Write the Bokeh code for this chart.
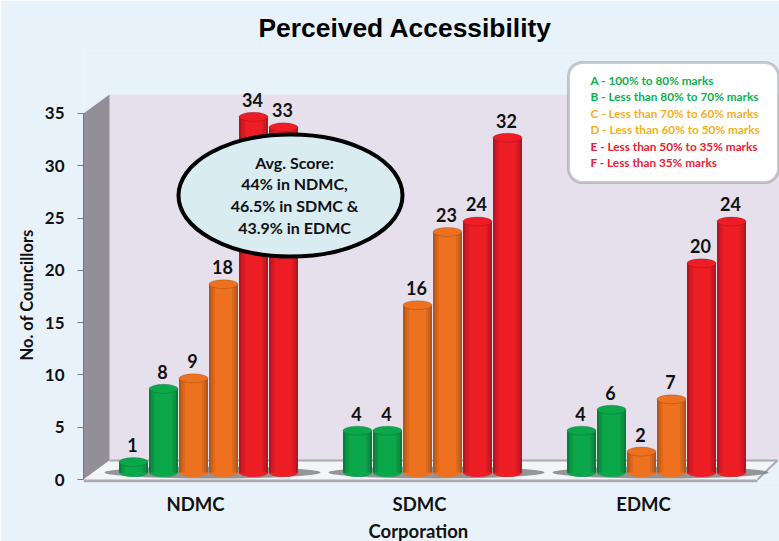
from bokeh.plotting import figure
from bokeh.models import Range1d, FixedTicker, BoxAnnotation, Title
from bokeh.embed import file_html
from bokeh.resources import INLINE
from bokeh.core.properties import value

corporations = ["NDMC", "SDMC", "EDMC"]
grades = ["A", "B", "C", "D", "E", "F"]
ndmc = [1, 8, 9, 18, 34, 33]
sdmc = [4, 4, 16, 23, 24, 32]
edmc = [4, 6, 2, 7, 20, 24]
y_ticks = [0, 5, 10, 15, 20, 25, 30, 35]
grade_colors = ["#0ba84b", "#0ba84b", "#ee711f", "#ee711f", "#ee1c25", "#ee1c25"]
title_text = "Perceived Accessibility"
y_title = "No. of Councillors"
x_title = "Corporation"
callout_lines = ["Avg. Score:", "44% in NDMC,", "46.5% in SDMC &", "43.9% in EDMC"]
legend_lines = [
    "A - 100% to 80% marks",
    "B - Less than 80%  to 70% marks",
    "C - Less than 70%  to 60% marks",
    "D - Less than 60%  to 50% marks",
    "E  - Less than 50%  to 35% marks",
    "F  - Less than 35% marks",
]
legend_colors = ["#10b050", "#10b050", "#f4b023", "#f4b023", "#ee2030", "#ee2030"]

BG = "#e8f2fb"
FONT = value("Lato")

PX_X = 224.0      # pixels per category
PX_Y = 10.46      # pixels per councillor
LEFT, ZERO = 83, 479


def X(px):
    return (px - LEFT) / PX_X


def Y(py):
    return (ZERO - py) / PX_Y


p = figure(width=779, height=541, output_backend="svg", toolbar_location=None,
           x_range=Range1d(0, X(779)), y_range=Range1d(Y(482), Y(50)),
           min_border_left=83, min_border_right=0, min_border_top=50, min_border_bottom=59,
           background_fill_color=BG, border_fill_color=BG, outline_line_color=None)
p.grid.visible = False

p.title.text = title_text
p.title.text_font = "Liberation Sans"
p.title.text_font_size = "26.4px"
p.title.text_font_style = "bold"
p.title.text_color = "#000000"
p.title.align = "left"
p.title.offset = 175
p.title.standoff = 16

# Axes
ya = p.yaxis[0]
ya.ticker = FixedTicker(ticks=y_ticks)
ya.bounds = (0, 35)
ya.major_label_text_font = "Lato"
ya.major_label_text_font_size = "17px"
ya.major_label_text_font_style = "bold"
ya.major_label_text_color = "#111111"
ya.major_label_standoff = 13
ya.major_tick_out = 6
ya.major_tick_in = 0
ya.major_tick_line_color = "#77777c"
ya.minor_tick_line_color = None
ya.axis_line_color = "#77777c"

xa = p.xaxis[0]
xa.ticker = FixedTicker(ticks=[i + 0.5 for i in range(len(corporations))])
xa.major_label_overrides = {i + 0.5: c for i, c in enumerate(corporations)}
xa.major_label_text_font = "Lato"
xa.major_label_text_font_size = "18.5px"
xa.major_label_text_font_style = "bold"
xa.major_label_text_color = "#111111"
xa.major_label_standoff = 10
xa.major_tick_out = 0
xa.major_tick_in = 0
xa.major_tick_line_color = None
xa.minor_tick_line_color = None
xa.axis_line_color = None

p.add_layout(Title(text=x_title, align="left", offset=285, standoff=0, text_font="Lato",
                   text_font_size="18.5px", text_font_style="bold", text_color="#111111"), "below")
p.add_layout(Title(text=y_title, align="left", offset=122, standoff=10, text_font="Lato",
                   text_font_size="16.5px", text_font_style="bold", text_color="#111111"), "left")

# 3D box: wall, side wall and floor
dx, dy = 26 / PX_X, 19 / PX_Y
p.quad(left=[dx], right=[X(779)], bottom=[dy], top=[35 + dy], fill_color="#e6e0ec", line_color=None)
p.patch([0, dx, dx, 0], [0, dy, 35 + dy, 35], fill_color="#928f97", line_color=None)
p.patch([0, dx, X(777), X(757)], [0, dy, dy, 0], fill_color="#f3f5f8", line_color=None)
p.line([dx, X(777)], [dy, dy], line_color="#a9a9b0", line_width=2)
p.patch([0, X(757), X(757), 0], [0, 0, Y(482), Y(482)], fill_color="#a8aab0", line_color=None)
p.line([X(757), X(777)], [0, dy], line_color="#a8aab0", line_width=2)

# Bars
series = [ndmc, sdmc, edmc]
bar_w = 29 / PX_X
pitch = 30 / PX_X
shift = 13 / PX_X
base = 0.67
cap_h = 9 / PX_Y

# floor shadows
for g, vals in enumerate(series):
    c = g + 0.5 + shift
    p.ellipse([c + 4 / PX_X], [base], width=6 * pitch + 36 / PX_X, height=12 / PX_Y,
              fill_color="#838488", fill_alpha=0.85, line_color=None)

for i in reversed(range(len(grades))):
    xs = [g + 0.5 + shift + (i - 2.5) * pitch for g in range(len(series))]
    vals = [s[i] for s in series]
    tops = [v + base for v in vals]
    col = grade_colors[i]
    p.ellipse(xs, [base] * 3, width=bar_w, height=cap_h, fill_color=col, line_color=None)
    p.vbar(x=xs, width=bar_w, bottom=base, top=tops, fill_color=col, line_color=None)
    # cylinder shading along both edges
    for k, a in enumerate([0.24, 0.14, 0.07]):
        for side in (-1, 1):
            cx = [x + side * (bar_w / 2 - (k + 0.5) * 2 / PX_X) for x in xs]
            p.vbar(x=cx, width=2 / PX_X, bottom=base, top=tops, fill_color="#000000",
                   fill_alpha=a, line_color=None)
    p.ellipse(xs, tops, width=bar_w, height=cap_h, fill_color=col, line_color="#000000",
              line_alpha=0.15, line_width=1)
    p.text(xs, tops, text=[str(v) for v in vals], text_font=FONT, text_font_size="18px",
           text_font_style="bold", text_color="#111111", text_align="center",
           text_baseline="middle", x_offset=-1, y_offset=-17)

# Callout ellipse
p.ellipse([X(290)], [Y(195)], width=224 / PX_X, height=122 / PX_Y, fill_color="#d9ecf2",
          line_color="#000000", line_width=4)
for line, py in zip(callout_lines, [162, 183, 205, 227]):
    p.text([X(294)], [Y(py)], text=[line], text_font=FONT, text_font_size="16px",
           text_font_style="bold", text_color="#111111", text_align="center",
           text_baseline="middle")

# Grade key
p.add_layout(BoxAnnotation(left=X(568), right=X(778), top=Y(62), bottom=Y(182),
                           fill_color="#ffffff", fill_alpha=1, line_color="#55565a",
                           line_width=3, border_radius=14))
for line, col, py in zip(legend_lines, legend_colors, [80, 96, 113, 129, 146, 162]):
    r = p.text([X(590)], [Y(py)], text=[line], text_font=FONT, text_font_size="11.8px",
               text_font_style="bold", text_color=col, text_align="left", text_baseline="middle")
    r.level = "overlay"

open("out.html", "w").write(file_html(p, INLINE))
